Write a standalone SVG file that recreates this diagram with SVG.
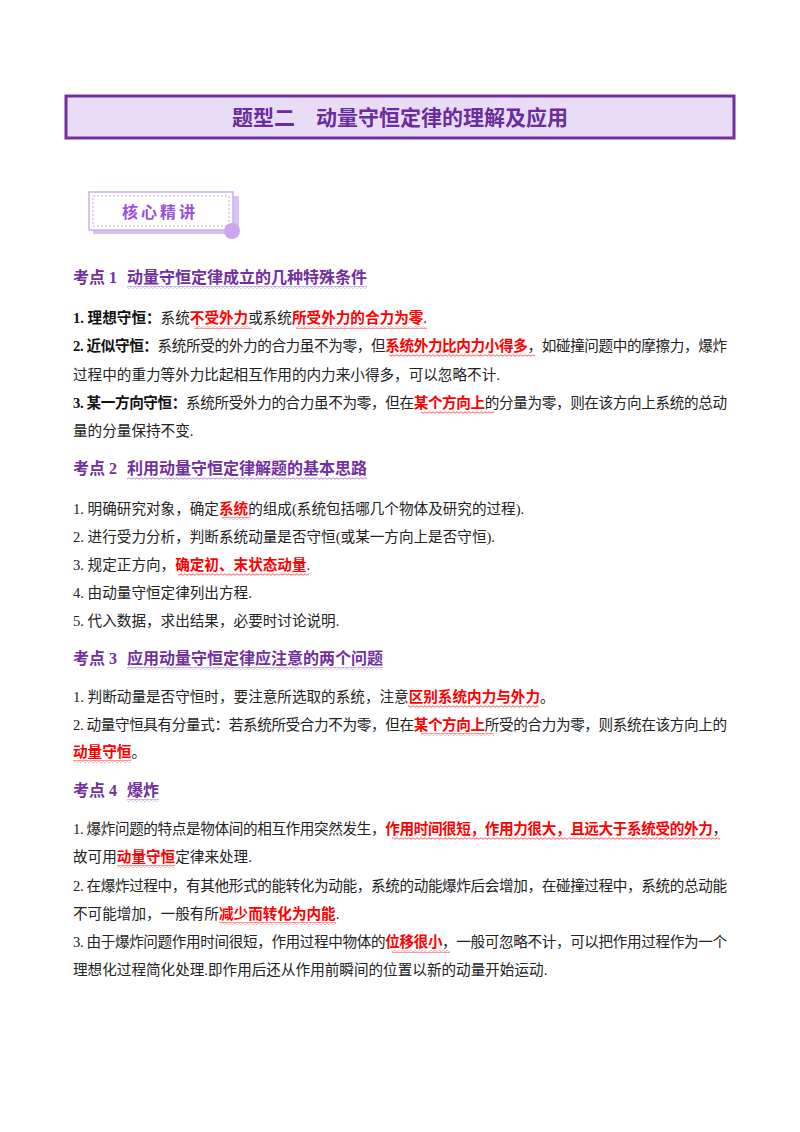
<svg xmlns="http://www.w3.org/2000/svg" width="800" height="1132" viewBox="0 0 800 1132">
<defs>
<style>
text{font-family:"Liberation Serif","Noto Sans CJK SC",serif;font-size:14.6px;fill:#222}
.b{font-weight:bold;fill:#111}
.r{fill:#ff0000;font-weight:bold}
.h{fill:#7030a0;font-weight:bold;font-size:16px}
</style>
<pattern id="wr" width="4" height="3" patternUnits="userSpaceOnUse"><path d="M0,1.5 Q1,0 2,1.5 T4,1.5" fill="none" stroke="#ff3030" stroke-width="0.8"/></pattern>
<pattern id="wp" width="4" height="3" patternUnits="userSpaceOnUse"><path d="M0,1.5 Q1,0 2,1.5 T4,1.5" fill="none" stroke="#9b6fd0" stroke-width="0.8"/></pattern>
</defs>
<rect width="800" height="1132" fill="#fff"/>
<g id="title">
<rect x="66" y="96" width="668" height="42" fill="#e8dcf6" stroke="#7030a0" stroke-width="3"/>
<text x="400" y="125" text-anchor="middle" style="font-size:21px;font-weight:bold;fill:#6a2d9c;font-family:'Noto Sans CJK SC',sans-serif">题型二　动量守恒定律的理解及应用</text>
</g>
<g id="badge">
<rect x="93" y="196" width="146" height="38" fill="#d8c2f2"/>
<rect x="89" y="192" width="144" height="38" fill="#fff" stroke="#c9b0ee" stroke-width="1.5"/>
<rect x="93" y="196" width="136" height="30" fill="none" stroke="#b58de8" stroke-width="0.8" stroke-dasharray="2,2"/>
<circle cx="232" cy="231" r="8" fill="#c9a8f0"/>
<text x="160" y="218" text-anchor="middle" style="font-size:16px;font-weight:bold;fill:#9a4fe0;letter-spacing:3px;font-family:'Noto Sans CJK SC',sans-serif">核心精讲</text>
</g>
<g id="sec1">
<text class="h" x="73" y="283">考点 1<tspan x="127">动量守恒定律成立的几种特殊条件</tspan></text>
<rect x="127" y="286" width="240" height="3" fill="url(#wp)"/>
<text x="73" y="323"><tspan class="b">1.  理想守恒：</tspan>系统<tspan class="r">不受外力</tspan>或系统<tspan class="r">所受外力的合力为零</tspan>.</text>
<rect x="194" y="326" width="58" height="3" fill="url(#wr)"/>
<rect x="296" y="326" width="131" height="3" fill="url(#wr)"/>
<text x="73" y="351" textLength="654"><tspan class="b">2.  近似守恒：</tspan>系统所受的外力的合力虽不为零，但<tspan class="r">系统外力比内力小得多</tspan>，如碰撞问题中的摩擦力，爆炸</text>
<rect x="389" y="354" width="146" height="3" fill="url(#wr)"/>
<text x="73" y="380">过程中的重力等外力比起相互作用的内力来小得多，可以忽略不计.</text>
<text x="73" y="408" textLength="654"><tspan class="b">3.  某一方向守恒：</tspan>系统所受外力的合力虽不为零，但在<tspan class="r">某个方向上</tspan>的分量为零，则在该方向上系统的总动</text>
<rect x="421" y="411" width="73" height="3" fill="url(#wr)"/>
<text x="73" y="436">量的分量保持不变.</text>
</g>
<g id="sec2">
<text class="h" x="73" y="474">考点 2<tspan x="127">利用动量守恒定律解题的基本思路</tspan></text>
<rect x="127" y="477" width="240" height="3" fill="url(#wp)"/>
<text x="73" y="514">1.  明确研究对象，确定<tspan class="r">系统</tspan>的组成(系统包括哪几个物体及研究的过程).</text>
<rect x="222" y="517" width="29" height="3" fill="url(#wr)"/>
<text x="73" y="542">2.  进行受力分析，判断系统动量是否守恒(或某一方向上是否守恒).</text>
<text x="73" y="570">3.  规定正方向，<tspan class="r">确定初、末状态动量</tspan>.</text>
<rect x="178" y="573" width="131" height="3" fill="url(#wr)"/>
<text x="73" y="598">4.  由动量守恒定律列出方程.</text>
<text x="73" y="626">5.  代入数据，求出结果，必要时讨论说明.</text>
</g>
<g id="sec3">
<text class="h" x="73" y="664">考点 3<tspan x="127">应用动量守恒定律应注意的两个问题</tspan></text>
<rect x="127" y="667" width="256" height="3" fill="url(#wp)"/>
<text x="73" y="702">1.  判断动量是否守恒时，要注意所选取的系统，注意<tspan class="r">区别系统内力与外力</tspan>。</text>
<rect x="408" y="705" width="131" height="3" fill="url(#wr)"/>
<text x="73" y="730" textLength="654">2.  动量守恒具有分量式：若系统所受合力不为零，但在<tspan class="r">某个方向上</tspan>所受的合力为零，则系统在该方向上的</text>
<rect x="421" y="733" width="73" height="3" fill="url(#wr)"/>
<text x="73" y="757"><tspan class="r">动量守恒</tspan>。</text>
<rect x="73" y="760" width="58" height="3" fill="url(#wr)"/>
</g>
<g id="sec4">
<text class="h" x="73" y="796">考点 4<tspan x="127">爆炸</tspan></text>
<rect x="127" y="799" width="32" height="3" fill="url(#wp)"/>
<text x="73" y="834" textLength="654">1.  爆炸问题的特点是物体间的相互作用突然发生，<tspan class="r">作用时间很短，作用力很大，且远大于系统受的外力</tspan>，</text>
<rect x="392" y="837" width="328" height="3" fill="url(#wr)"/>
<text x="73" y="862">故可用<tspan class="r">动量守恒</tspan>定律来处理.</text>
<rect x="117" y="865" width="58" height="3" fill="url(#wr)"/>
<text x="73" y="891" textLength="654">2.  在爆炸过程中，有其他形式的能转化为动能，系统的动能爆炸后会增加，在碰撞过程中，系统的总动能</text>
<text x="73" y="919">不可能增加，一般有所<tspan class="r">减少而转化为内能</tspan>.</text>
<rect x="219" y="922" width="117" height="3" fill="url(#wr)"/>
<text x="73" y="947" textLength="654">3.  由于爆炸问题作用时间很短，作用过程中物体的<tspan class="r">位移很小</tspan>，一般可忽略不计，可以把作用过程作为一个</text>
<rect x="392" y="950" width="58" height="3" fill="url(#wr)"/>
<text x="73" y="975">理想化过程简化处理.即作用后还从作用前瞬间的位置以新的动量开始运动.</text>
</g>
</svg>
